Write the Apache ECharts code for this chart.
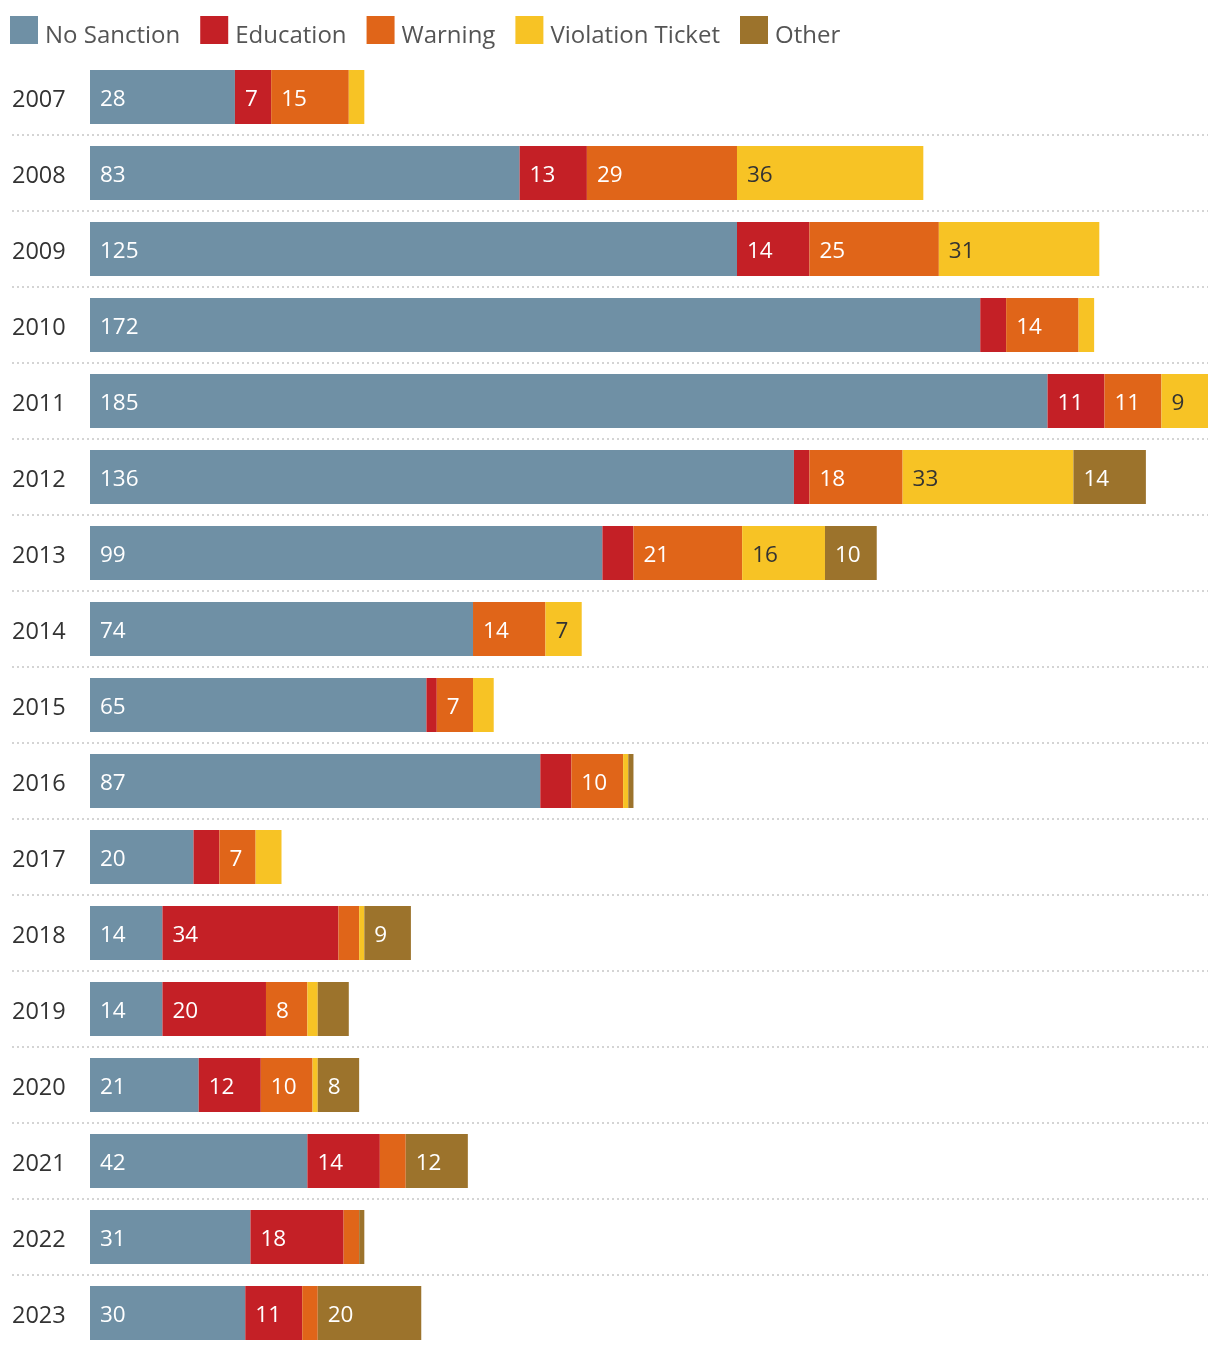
<!DOCTYPE html>
<html>
<head>
<meta charset="utf-8">
<script src="https://cdn.jsdelivr.net/npm/echarts@6/dist/echarts.min.js"></script>
<style>
html,body{margin:0;padding:0;background:#fff;}
#chart{width:1220px;height:1352px;}
</style>
</head>
<body>
<div id="chart"></div>
<script>
const years = ['2007','2008','2009','2010','2011','2012','2013','2014','2015','2016','2017','2018','2019','2020','2021','2022','2023'];
const seriesNames = ['No Sanction','Education','Warning','Violation Ticket','Other'];
const noSanction = [28,83,125,172,185,136,99,74,65,87,20,14,14,21,42,31,30];
const education  = [7,13,14,5,11,3,6,0,2,6,5,34,20,12,14,18,11];
const warning    = [15,29,25,14,11,18,21,14,7,10,7,4,8,10,5,3,3];
const violation  = [3,36,31,3,9,33,16,7,4,1,5,1,2,1,0,0,0];
const other      = [0,0,0,0,0,14,10,0,0,1,0,9,6,8,12,1,20];

const colors = ['#6f90a5','#c42026','#e06519','#f7c325','#9c732c'];
const labelColors = ['#ffffff','#ffffff','#ffffff','#333333','#ffffff'];
const FONT = '"Open Sans", "Noto Sans", sans-serif';

const W = 1220, gridLeft = 12, gridRight = 12, barStart = 90, xMax = 216;
const plotW = W - gridLeft - gridRight;
const xMin = -(barStart - gridLeft) * xMax / (plotW - (barStart - gridLeft));

const dataSets = [noSanction, education, warning, violation, other];

const chart = echarts.init(document.getElementById('chart'), null, {renderer:'canvas'});
chart.setOption({
  animation: false,
  color: colors,
  legend: {
    left: 10, top: 16, padding: 0,
    itemWidth: 28, itemHeight: 28, itemGap: 20,
    icon: 'rect',
    formatter: n => '{t|' + n + '}',
    textStyle: {fontFamily: FONT, fontSize: 24, color: '#555',
      rich: {t: {fontFamily: FONT, fontSize: 24, color: '#555', padding: [12, 0, 0, 2]}}},
    data: seriesNames
  },
  grid: {left: gridLeft, right: gridRight, top: 59, bottom: 1, containLabel: false},
  xAxis: {
    type: 'value', min: xMin, max: xMax,
    show: false, splitLine: {show: false}
  },
  yAxis: {
    type: 'category', data: years, inverse: true,
    axisLine: {show: false, onZero: false},
    axisTick: {show: false},
    axisLabel: {inside: true, margin: 0, fontFamily: FONT, fontSize: 23.5, color: '#333',
      lineHeight: 6, verticalAlign: 'top'},
    splitLine: {show: true, showMinLine: false, showMaxLine: false,
      lineStyle: {color: '#d4d4d4', width: 2, type: [2, 3]}}
  },
  series: seriesNames.map((name, i) => ({
    name: name, type: 'bar', stack: 'total', barWidth: 54,
    data: dataSets[i],
    itemStyle: {color: colors[i]},
    label: {
      show: true, position: 'insideLeft', distance: 10, offset: [0, 3],
      fontFamily: FONT, fontSize: 22.5, color: labelColors[i],
      formatter: p => (p.value >= 7 ? String(p.value) : '')
    },
    emphasis: {disabled: true}
  }))
});
</script>
</body>
</html>
